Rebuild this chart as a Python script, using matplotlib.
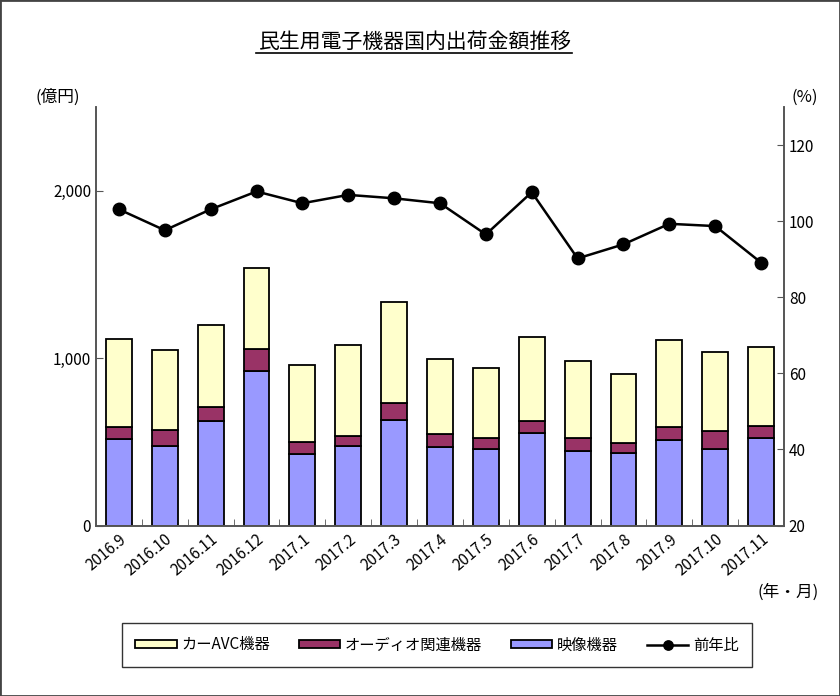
import numpy as np
import matplotlib
matplotlib.use('Agg')
import matplotlib.pyplot as plt
from matplotlib.ticker import FuncFormatter

plt.rcParams['font.family'] = ['Noto Sans CJK JP', 'DejaVu Sans']

# data (億円 / %)
months = ['2016.9', '2016.10', '2016.11', '2016.12', '2017.1', '2017.2', '2017.3', '2017.4',
          '2017.5', '2017.6', '2017.7', '2017.8', '2017.9', '2017.10', '2017.11']
video = [515, 475, 624, 924, 425, 475, 632, 471, 457, 552, 447, 435, 512, 459, 521]
audio = [75, 97, 83, 131, 72, 61, 97, 75, 67, 70, 75, 60, 78, 107, 73]
car_avc = [527, 477, 493, 483, 461, 541, 606, 447, 414, 504, 459, 413, 518, 469, 475]
yoy = [103.1, 97.6, 103.1, 107.8, 104.7, 106.9, 106.0, 104.7,
       96.5, 107.6, 90.2, 93.9, 99.3, 98.7, 89.1]

c_video = '#9999FF'
c_audio = '#993366'
c_car = '#FFFFCC'

fig = plt.figure(figsize=(8.4, 6.96), dpi=100)
ax = fig.add_axes([96 / 840, 1 - 525.5 / 696, 688 / 840, 418.5 / 696])
ax2 = ax.twinx()

x = np.arange(len(months))
w = 0.565
v = np.array(video)
a = np.array(audio)
ax.bar(x, v, w, color=c_video, edgecolor='black', linewidth=1.3, label='映像機器')
ax.bar(x, a, w, bottom=v, color=c_audio, edgecolor='black', linewidth=1.3, label='オーディオ関連機器')
ax.bar(x, car_avc, w, bottom=v + a, color=c_car, edgecolor='black', linewidth=1.3, label='カーAVC機器')

ax2.plot(x, yoy, color='black', lw=1.8, marker='o', ms=9, label='前年比')

ax.set_xlim(-0.5, len(months) - 0.5)
ax.set_ylim(0, 2500)
ax.set_yticks([0, 1000, 2000])
ax.yaxis.set_major_formatter(FuncFormatter(lambda val, p: '{:,.0f}'.format(val)))
ax2.set_ylim(20, 130)
ax2.set_yticks([20, 40, 60, 80, 100, 120])

ax.set_xticks(x)
ax.set_xticklabels(months, rotation=40, ha='right', va='top', rotation_mode='anchor')
ax.tick_params(axis='x', length=0, pad=4, labelsize=11)
ax.set_xticks(np.arange(0.5, len(months) - 1, 1), minor=True)
ax.tick_params(axis='x', which='minor', direction='in', length=5, color='#555555')
ax.tick_params(axis='y', direction='in', length=5, labelsize=11, color='#555555')
ax2.tick_params(axis='y', direction='in', length=5, labelsize=11, color='#555555')

for axis in (ax, ax2):
    axis.spines['top'].set_visible(False)
    for s in ('left', 'right', 'bottom'):
        axis.spines[s].set_color('#555555')
        axis.spines[s].set_linewidth(1.2)

fig.text(415 / 840, 1 - 42 / 696, '民生用電子機器国内出荷金額推移', ha='center', va='center', fontsize=15)
fig.add_artist(plt.Line2D([256 / 840, 572 / 840], [1 - 53 / 696] * 2, color='black', lw=1.2))
fig.text(58 / 840, 1 - 97 / 696, '(億円)', ha='center', va='center', fontsize=12)
fig.text(805 / 840, 1 - 97 / 696, '(%)', ha='center', va='center', fontsize=12)
fig.text(788 / 840, 1 - 592 / 696, '(年・月)', ha='center', va='center', fontsize=12)

h1, l1 = ax.get_legend_handles_labels()
h2, l2 = ax2.get_legend_handles_labels()
handles = [h1[2], h1[1], h1[0], h2[0]]
labels = [l1[2], l1[1], l1[0], l2[0]]
leg = fig.legend(handles, labels, loc='center', bbox_to_anchor=(437 / 840, 1 - 645 / 696),
                 ncol=4, frameon=True, fancybox=False, edgecolor='black', fontsize=11,
                 handlelength=2.7, handleheight=0.5, columnspacing=1.9, borderpad=0.9,
                 handletextpad=0.3, borderaxespad=0, markerscale=0.75)
leg.get_frame().set_linewidth(1.0)

fig.add_artist(plt.Rectangle((0, 0), 1, 1, transform=fig.transFigure, fill=False,
                             edgecolor='#444444', lw=2))

fig.savefig('out.png', dpi=100)
